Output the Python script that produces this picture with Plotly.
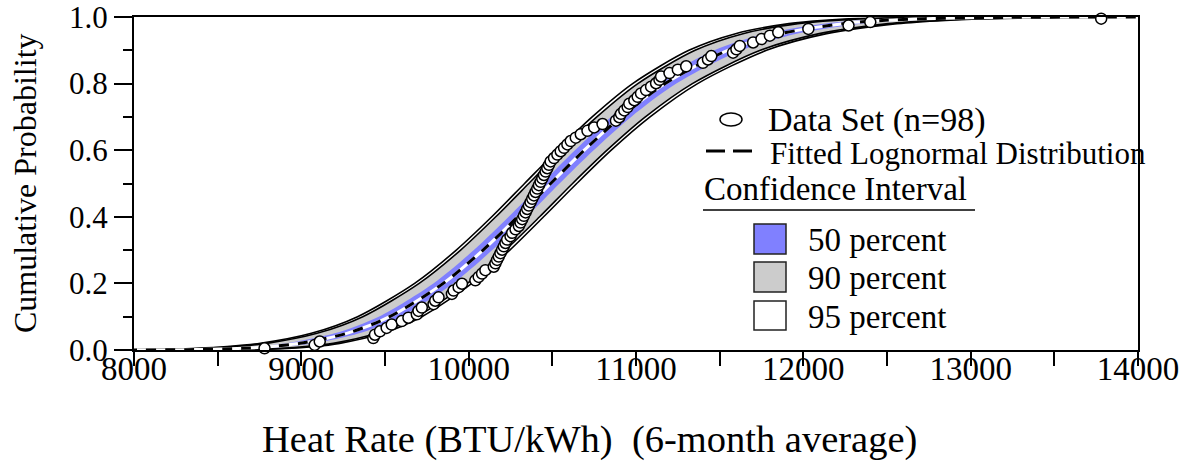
import plotly.graph_objects as go

# ---------------- data ----------------
# observed heat rates (BTU/kWh), sorted, n = 98
heat_rate = [
    8780, 9080, 9110, 9430, 9440, 9470, 9510, 9540, 9600, 9640,
    9690, 9700, 9720, 9790, 9800, 9820, 9900, 9910, 9940, 9960,
    10040, 10060, 10080, 10100, 10150, 10160, 10170, 10180, 10190, 10200,
    10210, 10220, 10230, 10250, 10260, 10280, 10300, 10310, 10320, 10330,
    10340, 10350, 10360, 10370, 10380, 10390, 10400, 10410, 10420, 10430,
    10440, 10450, 10460, 10470, 10480, 10490, 10510, 10530, 10550, 10570,
    10590, 10610, 10640, 10670, 10710, 10750, 10800, 10880, 10900, 10910,
    10930, 10950, 10960, 10990, 11010, 11030, 11060, 11090, 11120, 11140,
    11150, 11200, 11250, 11300, 11400, 11430, 11450, 11580, 11600, 11620,
    11700, 11750, 11800, 11850, 12030, 12270, 12400, 13780,
]

# probability levels at which the fitted curve and bands were read
prob_levels = [0.00001, 0.0001, 0.001, 0.005, 0.01, 0.02, 0.05, 0.1, 0.2, 0.3, 0.4, 0.5,
               0.6, 0.7, 0.8, 0.9, 0.95, 0.98, 0.99, 0.995, 0.999, 0.9999, 0.99999]
fitted_x = [7618, 7937, 8321, 8647, 8811, 8992, 9272, 9528, 9848, 10086, 10293, 10490,
            10691, 10911, 11174, 11548, 11867, 12237, 12489, 12725, 13226, 13865, 14444]
# half widths (BTU/kWh) of confidence bands
hw95 = [362, 334, 299, 269, 254, 237, 212, 192, 171, 160, 155, 156,
        161, 173, 194, 232, 272, 323, 360, 396, 475, 584, 686]
hw90 = [303, 280, 251, 226, 212, 199, 178, 161, 144, 134, 131, 131,
        136, 145, 163, 195, 228, 270, 301, 332, 399, 489, 575]
hw50 = [124, 115, 103, 93, 87, 82, 73, 66, 59, 55, 54, 53,
        56, 60, 67, 80, 94, 111, 124, 136, 164, 201, 236]

x_ticks = [8000, 9000, 10000, 11000, 12000, 13000, 14000]
y_ticks = [0.0, 0.2, 0.4, 0.6, 0.8, 1.0]

# ---------------- figure ----------------
W, H = 1180, 470
L, R, T, B = 134, 1138, 17, 350
FONT = "Liberation Serif"

n = len(heat_rate)
ecdf = [(i + 0.5) / n for i in range(n)]

fig = go.Figure()


def band(hw, fill, outline):
    lo = [f - h for f, h in zip(fitted_x, hw)]
    hi = [f + h for f, h in zip(fitted_x, hw)]
    xs = lo + hi[::-1]
    ys = prob_levels + prob_levels[::-1]
    fig.add_trace(go.Scatter(
        x=xs, y=ys, mode="lines", fill="toself", fillcolor=fill,
        line=dict(color=outline, width=1.6 if outline != fill else 0, shape="spline", smoothing=0.8),
        hoverinfo="skip", showlegend=False))


band(hw95, "white", "black")
band(hw90, "#cccccc", "black")
band(hw50, "#8080ff", "#8080ff")

fig.add_trace(go.Scatter(x=fitted_x, y=prob_levels, mode="lines",
                         line=dict(color="white", width=3, shape="spline", smoothing=0.8),
                         hoverinfo="skip", showlegend=False))
fig.add_trace(go.Scatter(x=fitted_x, y=prob_levels, mode="lines",
                         line=dict(color="black", width=3, dash="10px,9px", shape="spline", smoothing=0.8),
                         hoverinfo="skip", showlegend=False))

fig.add_trace(go.Scatter(x=heat_rate, y=ecdf, mode="markers",
                         marker=dict(symbol="circle", size=11, color="white",
                                     line=dict(color="black", width=1.5)),
                         cliponaxis=False, showlegend=False))


def px(x):
    return (x - L) / (R - L)


def py(y):
    return (B - y) / (B - T)


shapes = []
ann = []
# legend: data set
shapes.append(dict(type="circle", xref="paper", yref="paper",
                   x0=px(720), x1=px(742), y0=py(126), y1=py(113),
                   line=dict(color="black", width=1.5), fillcolor="white"))
ann.append(("Data Set (n=98)", 766, 120, 34))
# legend: fitted
for a, b in [(706, 725), (733, 752)]:
    shapes.append(dict(type="line", xref="paper", yref="paper",
                       x0=px(a), x1=px(b), y0=py(151), y1=py(151),
                       line=dict(color="black", width=3)))
ann.append(("Fitted Lognormal Distribution", 768, 153, 31))
ann.append(("Confidence Interval", 702, 189, 33))
shapes.append(dict(type="line", xref="paper", yref="paper",
                   x0=px(703), x1=px(975), y0=py(210), y1=py(210),
                   line=dict(color="black", width=1.5)))
for (y0, y1, col, lab) in [(224, 254, "#8080ff", "50 percent"),
                           (262, 292, "#cccccc", "90 percent"),
                           (301, 330, "white", "95 percent")]:
    shapes.append(dict(type="rect", xref="paper", yref="paper",
                       x0=px(754), x1=px(786), y0=py(y1), y1=py(y0),
                       line=dict(color="#222222", width=1.5), fillcolor=col))
    ann.append((lab, 806, (y0 + y1) / 2 + 1, 33))

annotations = []
for text, x, y, fs in ann:
    annotations.append(dict(text=text, x=px(x), y=py(y), xref="paper", yref="paper",
                            xanchor="left", yanchor="middle", showarrow=False,
                            font=dict(family=FONT, size=fs, color="black")))
# axis titles
annotations.append(dict(text="Cumulative Probability", x=px(25), y=py(183),
                        xref="paper", yref="paper", xanchor="center", yanchor="middle",
                        textangle=-90, showarrow=False,
                        font=dict(family=FONT, size=32, color="black")))
annotations.append(dict(text="Heat Rate (BTU/kWh)  (6-month average)", x=px(589), y=py(440),
                        xref="paper", yref="paper", xanchor="center", yanchor="middle",
                        showarrow=False,
                        font=dict(family=FONT, size=38.5, color="black")))

fig.update_layout(
    width=W, height=H,
    margin=dict(l=L, r=W - R, t=T, b=H - B, pad=0),
    paper_bgcolor="white", plot_bgcolor="white",
    font=dict(family=FONT, size=33, color="black"),
    shapes=shapes, annotations=annotations,
    showlegend=False,
)
fig.update_xaxes(
    range=[8000, 14000], tickvals=x_ticks, tickformat="d",
    ticks="outside", ticklen=14, tickwidth=1.5, tickcolor="black",
    minor=dict(dtick=500, ticks="outside", ticklen=14, tickwidth=1.5, tickcolor="black"),
    showline=True, linecolor="black", linewidth=2, mirror=True,
    showgrid=False, zeroline=False,
    tickfont=dict(family=FONT, size=33),
    ticklabelstandoff=-26, ticklabeloverflow="allow",
    automargin=False,
)
fig.update_yaxes(
    range=[0, 1], tickvals=y_ticks, tickformat=".1f",
    ticks="outside", ticklen=18, tickwidth=1.5, tickcolor="black",
    minor=dict(dtick=0.1, ticks="outside", ticklen=9, tickwidth=1.5, tickcolor="black"),
    showline=True, linecolor="black", linewidth=2, mirror=True,
    showgrid=False, zeroline=False,
    tickfont=dict(family=FONT, size=31),
    ticklabeloverflow="allow",
    automargin=False,
)

fig.write_html("out.html")
